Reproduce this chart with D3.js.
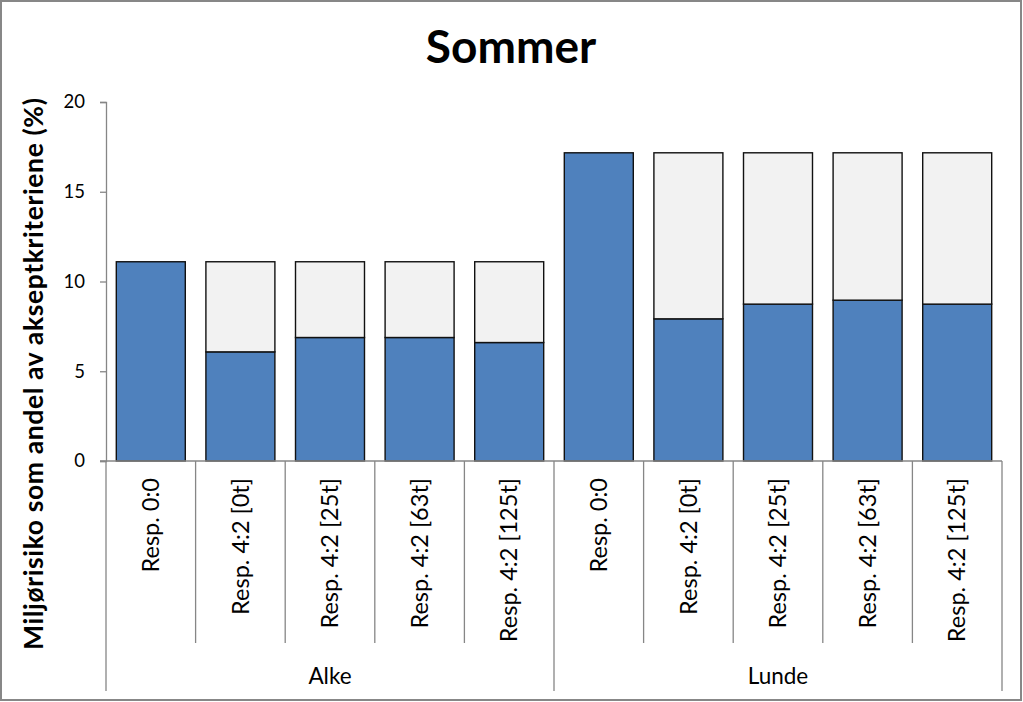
<!DOCTYPE html>
<html>
<head>
<meta charset="utf-8">
<script src="https://cdn.jsdelivr.net/npm/d3@7"></script>
<style>
  html, body { margin: 0; padding: 0; background: #fff; }
  svg { display: block; }
</style>
</head>
<body>
<svg id="chart" width="1023" height="702"></svg>
<script>
// ---- Data ----
const groups = ["Alke", "Lunde"];
const categories = ["Resp. 0:0", "Resp. 4:2 [0t]", "Resp. 4:2 [25t]", "Resp. 4:2 [63t]", "Resp. 4:2 [125t]"];
const riskAlke = [11.10, 6.08, 6.88, 6.88, 6.60];      // blue (remaining risk)
const reducedAlke = [0, 5.02, 4.22, 4.22, 4.50];       // grey (reduction)
const riskLunde = [17.17, 7.92, 8.74, 8.96, 8.74];
const reducedLunde = [0, 9.25, 8.43, 8.21, 8.43];
const yTicks = [0, 5, 10, 15, 20];
const title = "Sommer";
const yTitle = "Miljørisiko som andel av akseptkriteriene (%)";

(function () {
const rows = [];
groups.forEach((g, gi) => {
  const risk = gi === 0 ? riskAlke : riskLunde;
  const red = gi === 0 ? reducedAlke : reducedLunde;
  categories.forEach((c, ci) => {
    rows.push({ key: g + "|" + c, group: g, cat: c, risk: risk[ci], reduced: red[ci] });
  });
});

const svg = d3.select("#chart");
const font = "Lato, 'Open Sans', sans-serif";
const axisColor = "#868686";

// outer border
svg.append("rect").attr("x", 1).attr("y", 1).attr("width", 1020).attr("height", 699)
  .attr("fill", "#fff").attr("stroke", "#878787").attr("stroke-width", 2);

const mLeft = 106, mRight = 1002, mTop = 102, mBottom = 461;

const x = d3.scaleBand().domain(rows.map(d => d.key)).range([mLeft, mRight]).paddingInner(0.23).paddingOuter(0.115);
const xBand = d3.scaleBand().domain(rows.map(d => d.key)).range([mLeft, mRight]);
const xGroup = d3.scaleBand().domain(groups).range([mLeft, mRight]);
const y = d3.scaleLinear().domain([0, 20]).range([mBottom, mTop]);

// title
svg.append("text").attr("x", 511).attr("y", 63).attr("text-anchor", "middle")
  .attr("font-family", font).attr("font-weight", "bold").attr("font-size", 46).attr("fill", "#000")
  .text(title);

// y title
svg.append("text").attr("transform", "translate(34,374) rotate(-90)")
  .attr("text-anchor", "middle").attr("dy", "0.35em")
  .attr("font-family", font).attr("font-weight", "bold").attr("font-size", 26.5).attr("fill", "#000")
  .attr("textLength", 552).attr("lengthAdjust", "spacing")
  .text(yTitle);

// y axis
const yAxis = d3.axisLeft(y).tickValues(yTicks).tickSize(6).tickPadding(15);
const yg = svg.append("g").attr("transform", `translate(${mLeft},0)`).call(yAxis);
yg.select(".domain").attr("stroke", axisColor).attr("stroke-width", 1.3);
yg.selectAll(".tick line").attr("stroke", axisColor).attr("stroke-width", 1.3);
yg.selectAll(".tick text").attr("font-family", font).attr("font-size", 18.5).attr("fill", "#000");

// stacked bars
const stack = d3.stack().keys(["risk", "reduced"]);
const series = stack(rows);
const colors = { risk: "#4F81BD", reduced: "#F2F2F2" };
series.forEach(s => {
  svg.append("g").selectAll("rect").data(s.filter(d => d[1] - d[0] > 0)).join("rect")
    .attr("x", d => x(d.data.key))
    .attr("width", x.bandwidth())
    .attr("y", d => y(d[1]))
    .attr("height", d => y(d[0]) - y(d[1]))
    .attr("fill", colors[s.key])
    .attr("stroke", "#111")
    .attr("stroke-width", 1.4);
});

// x axis line
svg.append("line").attr("x1", mLeft - 6).attr("x2", mRight).attr("y1", mBottom).attr("y2", mBottom)
  .attr("stroke", axisColor).attr("stroke-width", 1.3);

// category separators
rows.forEach((d, i) => {
  const xx = xBand(d.key);
  const isGroupEdge = i % categories.length === 0;
  svg.append("line").attr("x1", xx).attr("x2", xx).attr("y1", mBottom)
    .attr("y2", isGroupEdge ? 691 : 643).attr("stroke", axisColor).attr("stroke-width", 1.3);
});
svg.append("line").attr("x1", mRight).attr("x2", mRight).attr("y1", mBottom).attr("y2", 691)
  .attr("stroke", axisColor).attr("stroke-width", 1.3);

// category labels
svg.append("g").selectAll("text").data(rows).join("text")
  .attr("transform", d => `translate(${xBand(d.key) + xBand.bandwidth() / 2},478) rotate(-90)`)
  .attr("text-anchor", "end").attr("dy", "0.35em")
  .attr("font-family", font).attr("font-size", 23.5).attr("fill", "#000")
  .text(d => d.cat);

// group labels
svg.append("g").selectAll("text").data(groups).join("text")
  .attr("x", d => xGroup(d) + xGroup.bandwidth() / 2).attr("y", 684)
  .attr("text-anchor", "middle")
  .attr("font-family", font).attr("font-size", 22.5).attr("fill", "#000")
  .text(d => d);
})();
</script>
</body>
</html>
